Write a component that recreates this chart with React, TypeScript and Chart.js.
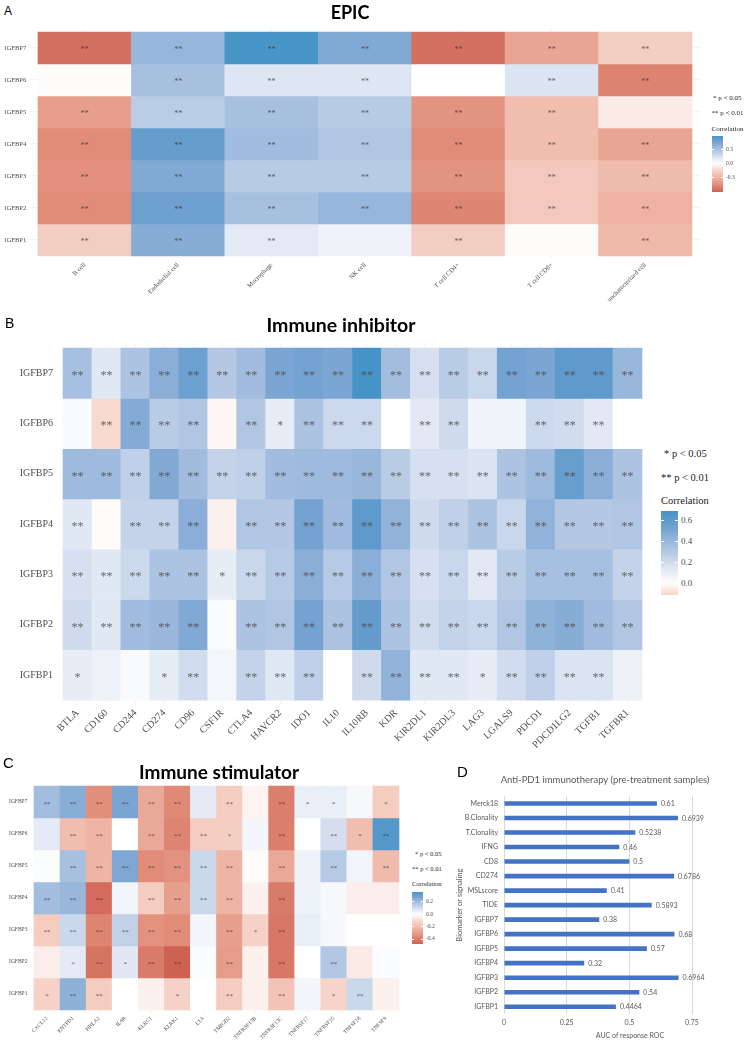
import React, { useEffect, useRef } from "react";
import { Chart, registerables } from "chart.js";

Chart.register(...registerables);

// ---------------- Data ----------------
const heatRows = ["IGFBP7", "IGFBP6", "IGFBP5", "IGFBP4", "IGFBP3", "IGFBP2", "IGFBP1"];

const epicCols = ["B cell", "Endothelial cell", "Macrophage", "NK cell", "T cell CD4+", "T cell CD8+", "uncharacterized cell"];
const epicValues = [
  [-0.55, 0.35, 0.58, 0.42, -0.55, -0.35, -0.18],
  [-0.01, 0.3, 0.12, 0.12, 0.0, 0.13, -0.48],
  [-0.38, 0.24, 0.3, 0.25, -0.42, -0.25, -0.07],
  [-0.45, 0.5, 0.32, 0.27, -0.45, -0.25, -0.35],
  [-0.43, 0.42, 0.25, 0.25, -0.42, -0.2, -0.26],
  [-0.45, 0.47, 0.3, 0.35, -0.47, -0.2, -0.3],
  [-0.18, 0.4, 0.1, 0.06, -0.18, -0.01, -0.27],
];
const epicStars = [
  ["**", "**", "**", "**", "**", "**", "**"],
  ["", "**", "**", "**", "", "**", "**"],
  ["**", "**", "**", "**", "**", "**", ""],
  ["**", "**", "**", "**", "**", "**", "**"],
  ["**", "**", "**", "**", "**", "**", "**"],
  ["**", "**", "**", "**", "**", "**", "**"],
  ["**", "**", "**", "", "**", "", "**"],
];
const epicLegendTicks = [0.3, 0.0, -0.3];

const inhibCols = ["BTLA", "CD160", "CD244", "CD274", "CD96", "CSF1R", "CTLA4", "HAVCR2", "IDO1", "IL10", "IL10RB", "KDR", "KIR2DL1", "KIR2DL3", "LAG3", "LGALS9", "PDCD1", "PDCD1LG2", "TGFB1", "TGFBR1"];
const inhibValues = [
  [0.35, 0.13, 0.33, 0.45, 0.55, 0.3, 0.37, 0.5, 0.52, 0.5, 0.68, 0.36, 0.17, 0.28, 0.22, 0.52, 0.5, 0.6, 0.6, 0.4],
  [0.03, -0.1, 0.47, 0.28, 0.31, -0.02, 0.31, 0.1, 0.33, 0.21, 0.21, 0.0, 0.12, 0.2, 0.06, 0.06, 0.21, 0.19, 0.12, 0.0],
  [0.38, 0.38, 0.26, 0.48, 0.37, 0.24, 0.26, 0.37, 0.38, 0.38, 0.4, 0.28, 0.17, 0.17, 0.15, 0.33, 0.38, 0.57, 0.45, 0.33],
  [0.13, -0.01, 0.24, 0.24, 0.45, -0.04, 0.31, 0.3, 0.52, 0.37, 0.6, 0.42, 0.2, 0.26, 0.33, 0.22, 0.42, 0.3, 0.3, 0.31],
  [0.17, 0.13, 0.21, 0.33, 0.33, 0.1, 0.22, 0.29, 0.45, 0.29, 0.45, 0.31, 0.17, 0.22, 0.12, 0.28, 0.35, 0.35, 0.35, 0.24],
  [0.2, 0.13, 0.37, 0.39, 0.48, 0.02, 0.33, 0.31, 0.52, 0.33, 0.58, 0.33, 0.19, 0.24, 0.22, 0.31, 0.43, 0.46, 0.37, 0.31],
  [0.1, 0.07, 0.03, 0.1, 0.19, 0.05, 0.24, 0.13, 0.26, 0.0, 0.2, 0.42, 0.13, 0.13, 0.1, 0.19, 0.26, 0.15, 0.15, 0.08],
];
const inhibStars = [
  ["**", "**", "**", "**", "**", "**", "**", "**", "**", "**", "**", "**", "**", "**", "**", "**", "**", "**", "**", "**"],
  ["", "**", "**", "**", "**", "", "**", "*", "**", "**", "**", "", "**", "**", "", "", "**", "**", "**", ""],
  ["**", "**", "**", "**", "**", "**", "**", "**", "**", "**", "**", "**", "**", "**", "**", "**", "**", "**", "**", "**"],
  ["**", "", "**", "**", "**", "", "**", "**", "**", "**", "**", "**", "**", "**", "**", "**", "**", "**", "**", "**"],
  ["**", "**", "**", "**", "**", "*", "**", "**", "**", "**", "**", "**", "**", "**", "**", "**", "**", "**", "**", "**"],
  ["**", "**", "**", "**", "**", "", "**", "**", "**", "**", "**", "**", "**", "**", "**", "**", "**", "**", "**", "**"],
  ["*", "", "", "*", "**", "", "**", "**", "**", "", "**", "**", "**", "**", "*", "**", "**", "**", "**", ""],
];
const inhibLegendTicks = [0.6, 0.4, 0.2, 0.0];

const stimCols = ["CXCL12", "ENTPD1", "HHLA2", "IL6R", "KLRC1", "KLRK1", "LTA", "TMIGD2", "TNFRSF13B", "TNFRSF13C", "TNFRSF17", "TNFRSF25", "TNFSF18", "TNFSF9"];
const stimValues = [
  [0.2, 0.25, -0.35, 0.28, -0.27, -0.37, 0.06, -0.15, -0.03, -0.4, 0.05, 0.05, 0.02, -0.15],
  [0.06, -0.2, -0.23, 0.0, -0.27, -0.38, -0.15, -0.14, 0.03, -0.4, 0.0, 0.1, -0.2, 0.35],
  [0.01, 0.19, -0.23, 0.27, -0.36, -0.34, 0.12, -0.23, -0.01, -0.27, 0.04, 0.16, 0.03, -0.21],
  [0.2, 0.22, -0.45, 0.03, -0.15, -0.3, 0.12, -0.23, -0.04, -0.41, 0.04, 0.02, -0.05, -0.05],
  [-0.15, 0.12, -0.38, 0.14, -0.34, -0.36, 0.03, -0.3, -0.13, -0.42, 0.05, 0.02, 0.0, 0.0],
  [-0.05, 0.06, -0.43, 0.07, -0.41, -0.48, 0.01, -0.31, -0.04, -0.42, 0.0, 0.17, -0.06, 0.01],
  [-0.13, 0.24, -0.15, 0.0, -0.04, -0.13, 0.0, -0.15, -0.04, -0.18, 0.03, -0.12, 0.12, -0.04],
];
const stimStars = [
  ["**", "**", "**", "**", "**", "**", "", "**", "", "**", "*", "*", "", "*"],
  ["", "**", "**", "", "**", "**", "**", "*", "", "**", "", "**", "*", "**"],
  ["", "**", "**", "**", "**", "**", "**", "**", "", "**", "", "**", "", "**"],
  ["**", "**", "**", "", "**", "**", "**", "**", "", "**", "", "", "", ""],
  ["**", "**", "**", "**", "**", "**", "", "**", "*", "**", "", "", "", ""],
  ["", "*", "**", "*", "**", "**", "", "**", "", "**", "", "**", "", ""],
  ["*", "**", "**", "", "", "*", "", "**", "", "**", "", "*", "**", ""],
];
const stimLegendTicks = [0.2, 0.0, -0.2, -0.4];

const rocLabels = ["Merck18", "B.Clonality", "T.Clonality", "IFNG", "CD8", "CD274", "MSLscore", "TIDE", "IGFBP7", "IGFBP6", "IGFBP5", "IGFBP4", "IGFBP3", "IGFBP2", "IGFBP1"];
const rocValues = [0.61, 0.6939, 0.5238, 0.46, 0.5, 0.6786, 0.41, 0.5893, 0.38, 0.68, 0.57, 0.32, 0.6964, 0.54, 0.4464];
const rocTicks = [0, 0.25, 0.5, 0.75];

// ---------------- Styling helpers ----------------
const SERIF = '"Liberation Serif", "Times New Roman", serif';
const SANS = 'Lato, "Open Sans", sans-serif';
const ARIAL = '"Liberation Sans", Arial, sans-serif';
const GRID = "rgba(0,0,0,0.07)";

type Stop = [number, number, number, number];
const blueStops: Stop[] = [[0, 255, 255, 255], [0.25, 214, 224, 240], [0.5, 168, 192, 224], [0.75, 118, 163, 209], [1, 67, 147, 198]];
const redStops: Stop[] = [[0, 255, 255, 255], [0.25, 246, 212, 202], [0.5, 237, 178, 162], [0.75, 225, 140, 121], [1, 206, 98, 82]];

function interp(stops: Stop[], t: number) {
  for (let i = 1; i < stops.length; i++) {
    if (t <= stops[i][0]) {
      const a = stops[i - 1], b = stops[i];
      const f = (t - a[0]) / (b[0] - a[0]);
      const c = [1, 2, 3].map((k) => Math.round(a[k] + (b[k] - a[k]) * f));
      return `rgb(${c[0]},${c[1]},${c[2]})`;
    }
  }
  const l = stops[stops.length - 1];
  return `rgb(${l[1]},${l[2]},${l[3]})`;
}
function makeColor(posFull: number, negFull: number) {
  return (v: number) => {
    if (v >= 0) return interp(blueStops, Math.min(1, v / posFull));
    return interp(redStops, Math.min(1, -v / negFull));
  };
}
const epicColor = makeColor(0.6, 0.6);
const inhibColor = makeColor(0.69, 0.45);
const stimColor = makeColor(0.38, 0.48);

type Rect = { left: number; top: number; width: number; height: number };
type HeatProps = {
  rows: string[];
  cols: string[];
  values: number[][];
  stars: string[][];
  color: (v: number) => string;
  canvas: Rect;
  tiles: { left: number; top: number; right: number; bottom: number };
  labelFont: number;
  starFont: number;
  yPad: number;
  xPad: number;
  starColor: string;
};

function Heatmap(p: HeatProps) {
  const ref = useRef<HTMLCanvasElement>(null);
  useEffect(() => {
    const { rows, cols, values, stars, color, canvas, tiles, labelFont, starFont, yPad, xPad, starColor } = p;
    const nR = rows.length;
    const nC = cols.length;
    const uX = (tiles.right - tiles.left) / nC;
    const uY = (tiles.bottom - tiles.top) / nR;
    const area = {
      left: tiles.left - 0.1 * uX,
      right: tiles.right + 0.1 * uX,
      top: tiles.top - 0.1 * uY,
      bottom: tiles.bottom + 0.1 * uY,
    };
    const datasets = rows.map((r, ri) => {
      const yv = nR - 1 - ri;
      return {
        label: r,
        data: cols.map((_, ci) => ({ x: ci, y: [yv - 0.5, yv + 0.5] })),
        backgroundColor: values[ri].map(color),
        borderWidth: 0,
        grouped: false,
        barPercentage: 1,
        categoryPercentage: 1,
      };
    });
    const starPlugin = {
      id: "stars",
      afterDraw(chart: any) {
        const ctx = chart.ctx;
        const xs = chart.scales.x;
        const ys = chart.scales.y;
        ctx.save();
        ctx.font = `${starFont}px ${SERIF}`;
        ctx.fillStyle = starColor;
        ctx.textAlign = "center";
        ctx.textBaseline = "alphabetic";
        stars.forEach((row, ri) =>
          row.forEach((s, ci) => {
            if (!s) return;
            ctx.fillText(s, xs.getPixelForValue(ci), ys.getPixelForValue(nR - 1 - ri) + starFont * 0.5);
          })
        );
        ctx.restore();
      },
    };
    const tickFont = { family: SERIF, size: labelFont };
    const chart = new Chart(ref.current as HTMLCanvasElement, {
      type: "bar",
      data: { datasets } as any,
      options: {
        responsive: false,
        animation: false,
        events: [],
        layout: {
          padding: {
            left: 0,
            top: area.top - canvas.top,
            right: canvas.left + canvas.width - area.right,
            bottom: 0,
          },
        },
        plugins: { legend: { display: false }, tooltip: { enabled: false } },
        scales: {
          x: {
            type: "linear",
            min: -0.6,
            max: nC - 0.4,
            offset: false,
            z: 1,
            afterBuildTicks: (s: any) => {
              s.ticks = cols.map((_, i) => ({ value: i }));
            },
            afterFit: (s: any) => {
              s.height = canvas.top + canvas.height - area.bottom;
            },
            ticks: {
              autoSkip: false,
              minRotation: 45,
              maxRotation: 45,
              font: tickFont,
              color: "#4d4d4d",
              padding: xPad,
              callback: (v: any) => cols[v],
            },
            grid: { color: GRID, lineWidth: 0.6, drawTicks: false, offset: false },
            border: { display: false },
          },
          y: {
            type: "linear",
            min: -0.6,
            max: nR - 0.4,
            z: 1,
            afterBuildTicks: (s: any) => {
              s.ticks = rows.map((_, i) => ({ value: i }));
            },
            afterFit: (s: any) => {
              s.width = area.left - canvas.left;
            },
            ticks: {
              autoSkip: false,
              font: tickFont,
              color: "#4d4d4d",
              padding: yPad,
              callback: (v: any) => rows[nR - 1 - v],
            },
            grid: { color: GRID, lineWidth: 0.6, drawTicks: false },
            border: { display: false },
          },
        },
      } as any,
      plugins: [starPlugin],
    });
    return () => chart.destroy();
  }, []);
  const c = p.canvas;
  return (
    <canvas
      ref={ref}
      width={c.width}
      height={c.height}
      style={{ position: "absolute", left: c.left, top: c.top, width: c.width, height: c.height }}
    />
  );
}

function RocChart() {
  const ref = useRef<HTMLCanvasElement>(null);
  const canvas = { left: 448, top: 786, width: 300, height: 257 };
  const area = { left: 504, top: 796, right: 692, bottom: 1014 };
  useEffect(() => {
    const valuePlugin = {
      id: "values",
      afterDatasetsDraw(chart: any) {
        const ctx = chart.ctx;
        const meta = chart.getDatasetMeta(0);
        ctx.save();
        ctx.font = `7px ${SANS}`;
        ctx.fillStyle = "#595959";
        ctx.textAlign = "left";
        ctx.textBaseline = "middle";
        meta.data.forEach((el: any, i: number) => {
          ctx.fillText(String(rocValues[i]), el.x + 4, el.y + 0.5);
        });
        ctx.restore();
      },
    };
    const font = { family: SANS, size: 7 };
    const chart = new Chart(ref.current as HTMLCanvasElement, {
      type: "bar",
      data: {
        labels: rocLabels,
        datasets: [
          {
            data: rocValues,
            backgroundColor: "#4472C4",
            barPercentage: 0.32,
            categoryPercentage: 1,
            borderWidth: 0,
          },
        ],
      },
      options: {
        indexAxis: "y",
        responsive: false,
        animation: false,
        events: [],
        layout: {
          padding: {
            left: 0,
            top: area.top - canvas.top,
            right: canvas.left + canvas.width - area.right,
            bottom: 0,
          },
        },
        plugins: { legend: { display: false }, tooltip: { enabled: false } },
        scales: {
          x: {
            min: rocTicks[0],
            max: rocTicks[rocTicks.length - 1],
            afterBuildTicks: (s: any) => {
              s.ticks = rocTicks.map((v) => ({ value: v }));
            },
            ticks: { font, color: "#595959", padding: 5, callback: (v: any) => String(v) },
            grid: { color: "#d9d9d9", drawTicks: false },
            border: { display: false },
            afterFit: (s: any) => {
              s.height = canvas.top + canvas.height - area.bottom;
            },
          },
          y: {
            grid: { display: false, drawTicks: false },
            border: { display: false },
            ticks: { font, color: "#595959", padding: 6, autoSkip: false },
            title: {
              display: true,
              text: "Biomarker or signaling",
              font: { family: SANS, size: 7.5 },
              color: "#595959",
              padding: { top: 7, bottom: 0 },
            },
            afterFit: (s: any) => {
              s.width = area.left - canvas.left;
            },
          },
        },
      } as any,
      plugins: [valuePlugin],
    });
    return () => chart.destroy();
  }, []);
  return (
    <canvas
      ref={ref}
      width={canvas.width}
      height={canvas.height}
      style={{ position: "absolute", left: canvas.left, top: canvas.top, width: canvas.width, height: canvas.height }}
    />
  );
}

function Txt(props: { x: number; y: number; size: number; text: string; family?: string; weight?: any; color?: string; center?: boolean }) {
  const { x, y, size, text, family, weight, color, center } = props;
  const style: React.CSSProperties = {
    position: "absolute",
    left: x,
    top: y - size / 2,
    fontSize: size,
    lineHeight: `${size}px`,
    fontFamily: family || SERIF,
    fontWeight: weight || "normal",
    color: color || "#000",
    whiteSpace: "nowrap",
  };
  if (center) style.transform = "translateX(-50%)";
  return <div style={style}>{text}</div>;
}

type LegendProps = {
  fs: number;
  p1: [number, number];
  p2: [number, number];
  corr: [number, number];
  bar: Rect;
  vmax: number;
  vmin: number;
  ticks: number[];
  labelX: number;
  labelFs: number;
  color: (v: number) => string;
};

function HeatLegend(l: LegendProps) {
  const stops: string[] = [];
  const N = 24;
  for (let i = 0; i <= N; i++) {
    const v = l.vmax - ((l.vmax - l.vmin) * i) / N;
    stops.push(`${l.color(v)} ${((i / N) * 100).toFixed(1)}%`);
  }
  const yOf = (v: number) => l.bar.top + ((l.vmax - v) / (l.vmax - l.vmin)) * l.bar.height;
  const tw = Math.max(2, l.bar.width / 5);
  return (
    <>
      <Txt x={l.p1[0]} y={l.p1[1]} size={l.fs} text="* p < 0.05" color="#222" />
      <Txt x={l.p2[0]} y={l.p2[1]} size={l.fs} text="** p < 0.01" color="#222" />
      <Txt x={l.corr[0]} y={l.corr[1]} size={l.fs} text="Correlation" color="#222" />
      <div
        style={{
          position: "absolute",
          left: l.bar.left,
          top: l.bar.top,
          width: l.bar.width,
          height: l.bar.height,
          background: `linear-gradient(to bottom, ${stops.join(", ")})`,
        }}
      />
      {l.ticks.map((t) => (
        <React.Fragment key={t}>
          <div style={{ position: "absolute", left: l.bar.left, top: yOf(t) - 0.5, width: tw, height: 1, background: "#fff" }} />
          <div style={{ position: "absolute", left: l.bar.left + l.bar.width - tw, top: yOf(t) - 0.5, width: tw, height: 1, background: "#fff" }} />
          <Txt x={l.labelX} y={yOf(t)} size={l.labelFs} text={t.toFixed(1)} color="#4d4d4d" />
        </React.Fragment>
      ))}
    </>
  );
}

export default function App() {
  return (
    <div style={{ position: "absolute", left: 0, top: 0, width: 748, height: 1043, background: "#fff", overflow: "hidden" }}>
      {/* Panel A */}
      <Heatmap
        rows={heatRows}
        cols={epicCols}
        values={epicValues}
        stars={epicStars}
        color={epicColor}
        canvas={{ left: 0, top: 20, width: 712, height: 295 }}
        tiles={{ left: 38, top: 32, right: 692, bottom: 256 }}
        labelFont={6.5}
        starFont={8}
        yPad={2.5}
        xPad={2}
        starColor="rgba(50,45,45,0.75)"
      />
      <Txt x={4} y={11} size={12} text="A" family={ARIAL} />
      <Txt x={350} y={11.5} size={18} text="EPIC" family={SANS} weight={700} center />
      <HeatLegend
        fs={7}
        p1={[713, 98]}
        p2={[711.5, 113]}
        corr={[711.5, 129]}
        bar={{ left: 711.5, top: 136, width: 11.5, height: 56 }}
        vmax={0.58}
        vmin={-0.6}
        ticks={epicLegendTicks}
        labelX={726}
        labelFs={5.5}
        color={epicColor}
      />

      {/* Panel B */}
      <Heatmap
        rows={heatRows}
        cols={inhibCols}
        values={inhibValues}
        stars={inhibStars}
        color={inhibColor}
        canvas={{ left: 0, top: 330, width: 652, height: 425 }}
        tiles={{ left: 63, top: 344, right: 642, bottom: 700 }}
        labelFont={10}
        starFont={12}
        yPad={7}
        xPad={2}
        starColor="rgba(70,70,70,0.8)"
      />
      <Txt x={5} y={323} size={14} text="B" family={ARIAL} />
      <Txt x={341} y={325} size={19.5} text="Immune inhibitor" family={SANS} weight={700} center />
      <HeatLegend
        fs={10.5}
        p1={[664, 454]}
        p2={[661, 478]}
        corr={[661, 501]}
        bar={{ left: 661, top: 511, width: 17, height: 84 }}
        vmax={0.686}
        vmin={-0.114}
        ticks={inhibLegendTicks}
        labelX={681}
        labelFs={9}
        color={inhibColor}
      />

      {/* Panel C */}
      <Heatmap
        rows={heatRows}
        cols={stimCols}
        values={stimValues}
        stars={stimStars}
        color={stimColor}
        canvas={{ left: 0, top: 775, width: 408, height: 268 }}
        tiles={{ left: 34, top: 786, right: 399, bottom: 1010 }}
        labelFont={5.5}
        starFont={7}
        yPad={4}
        xPad={2}
        starColor="rgba(50,45,45,0.75)"
      />
      <Txt x={3} y={762} size={15} text="C" family={ARIAL} />
      <Txt x={219} y={771} size={19} text="Immune stimulator" family={SANS} weight={700} center />
      <HeatLegend
        fs={6.5}
        p1={[415, 854]}
        p2={[412, 869]}
        corr={[412, 884]}
        bar={{ left: 412, top: 892, width: 11, height: 52 }}
        vmax={0.36}
        vmin={-0.48}
        ticks={stimLegendTicks}
        labelX={426}
        labelFs={5.5}
        color={stimColor}
      />

      {/* Panel D */}
      <RocChart />
      <Txt x={457} y={771.5} size={15} text="D" family={ARIAL} />
      <Txt x={605} y={780} size={9.5} text="Anti-PD1 immunotherapy (pre-treatment samples)" family={SANS} color="#595959" center />
      <Txt x={630} y={1035} size={7} text="AUC of response ROC" family={SANS} color="#595959" center />
    </div>
  );
}
